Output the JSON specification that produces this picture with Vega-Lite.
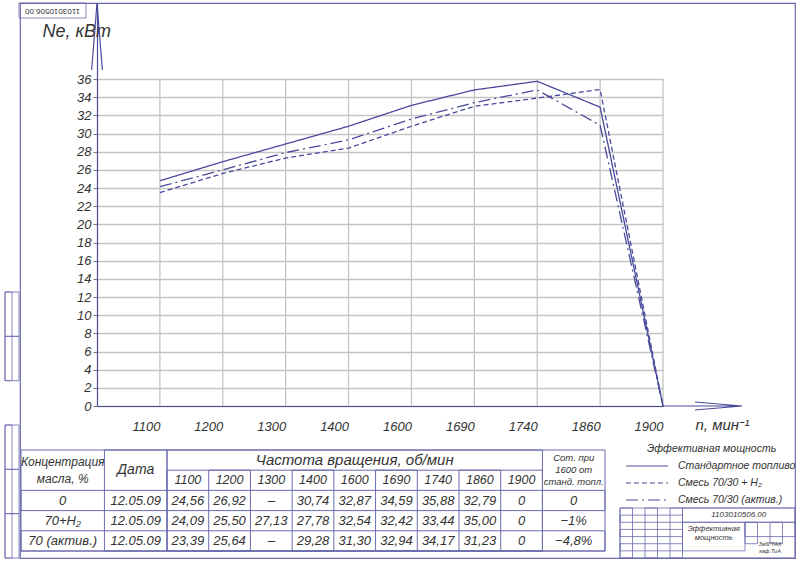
{
  "$schema": "https://vega.github.io/schema/vega-lite/v6.json",
  "description": "Эффективная мощность Ne в зависимости от частоты вращения n, с таблицей замеров",
  "autosize": {"type": "none"},
  "padding": {"left": 20, "top": 3, "right": 5, "bottom": 7},
  "width": 775,
  "height": 555,
  "background": "white",
  "config": {
    "font": "Liberation Sans, Roboto, sans-serif",
    "view": {"stroke": "#6a6aa8", "strokeWidth": 1.2},
    "text": {"fontStyle": "italic", "color": "#333333"},
    "axis": {"labelFontStyle": "italic", "labelColor": "#333333", "titleFontStyle": "italic", "titleFontWeight": "normal", "titleColor": "#333333"}
  },
  "datasets": {
    "curves": [
      {"rpm": "1100", "series": "Стандартное топливо", "ne": 24.8},
      {"rpm": "1200", "series": "Стандартное топливо", "ne": 26.9},
      {"rpm": "1300", "series": "Стандартное топливо", "ne": 28.85},
      {"rpm": "1400", "series": "Стандартное топливо", "ne": 30.8},
      {"rpm": "1600", "series": "Стандартное топливо", "ne": 33.1},
      {"rpm": "1690", "series": "Стандартное топливо", "ne": 34.8},
      {"rpm": "1740", "series": "Стандартное топливо", "ne": 35.75},
      {"rpm": "1860", "series": "Стандартное топливо", "ne": 32.9},
      {"rpm": "1900", "series": "Стандартное топливо", "ne": 0},
      {"rpm": "1100", "series": "Смесь 70/30 + H₂", "ne": 23.5},
      {"rpm": "1200", "series": "Смесь 70/30 + H₂", "ne": 25.6},
      {"rpm": "1300", "series": "Смесь 70/30 + H₂", "ne": 27.3},
      {"rpm": "1400", "series": "Смесь 70/30 + H₂", "ne": 28.4},
      {"rpm": "1600", "series": "Смесь 70/30 + H₂", "ne": 30.8},
      {"rpm": "1690", "series": "Смесь 70/30 + H₂", "ne": 33.0},
      {"rpm": "1740", "series": "Смесь 70/30 + H₂", "ne": 33.9},
      {"rpm": "1860", "series": "Смесь 70/30 + H₂", "ne": 34.85},
      {"rpm": "1900", "series": "Смесь 70/30 + H₂", "ne": 0},
      {"rpm": "1100", "series": "Смесь 70/30 (актив.)", "ne": 24.15},
      {"rpm": "1200", "series": "Смесь 70/30 (актив.)", "ne": 26.0},
      {"rpm": "1300", "series": "Смесь 70/30 (актив.)", "ne": 27.9},
      {"rpm": "1400", "series": "Смесь 70/30 (актив.)", "ne": 29.3},
      {"rpm": "1600", "series": "Смесь 70/30 (актив.)", "ne": 31.6},
      {"rpm": "1690", "series": "Смесь 70/30 (актив.)", "ne": 33.4},
      {"rpm": "1740", "series": "Смесь 70/30 (актив.)", "ne": 34.8},
      {"rpm": "1860", "series": "Смесь 70/30 (актив.)", "ne": 30.9},
      {"rpm": "1900", "series": "Смесь 70/30 (актив.)", "ne": 0}
    ],
    "cells": [
      {"row": "r0", "col": "conc", "text": "0"},
      {"row": "r0", "col": "date", "text": "12.05.09"},
      {"row": "r0", "col": "1100", "text": "24,56"},
      {"row": "r0", "col": "1200", "text": "26,92"},
      {"row": "r0", "col": "1300", "text": "–"},
      {"row": "r0", "col": "1400", "text": "30,74"},
      {"row": "r0", "col": "1600", "text": "32,87"},
      {"row": "r0", "col": "1690", "text": "34,59"},
      {"row": "r0", "col": "1740", "text": "35,88"},
      {"row": "r0", "col": "1860", "text": "32,79"},
      {"row": "r0", "col": "1900", "text": "0"},
      {"row": "r0", "col": "corr", "text": "0"},
      {"row": "r1", "col": "conc", "text": "70+H₂"},
      {"row": "r1", "col": "date", "text": "12.05.09"},
      {"row": "r1", "col": "1100", "text": "24,09"},
      {"row": "r1", "col": "1200", "text": "25,50"},
      {"row": "r1", "col": "1300", "text": "27,13"},
      {"row": "r1", "col": "1400", "text": "27,78"},
      {"row": "r1", "col": "1600", "text": "32,54"},
      {"row": "r1", "col": "1690", "text": "32,42"},
      {"row": "r1", "col": "1740", "text": "33,44"},
      {"row": "r1", "col": "1860", "text": "35,00"},
      {"row": "r1", "col": "1900", "text": "0"},
      {"row": "r1", "col": "corr", "text": "−1%"},
      {"row": "r2", "col": "conc", "text": "70 (актив.)"},
      {"row": "r2", "col": "date", "text": "12.05.09"},
      {"row": "r2", "col": "1100", "text": "23,39"},
      {"row": "r2", "col": "1200", "text": "25,64"},
      {"row": "r2", "col": "1300", "text": "–"},
      {"row": "r2", "col": "1400", "text": "29,28"},
      {"row": "r2", "col": "1600", "text": "31,30"},
      {"row": "r2", "col": "1690", "text": "32,94"},
      {"row": "r2", "col": "1740", "text": "34,17"},
      {"row": "r2", "col": "1860", "text": "31,23"},
      {"row": "r2", "col": "1900", "text": "0"},
      {"row": "r2", "col": "corr", "text": "−4,8%"}
    ],
    "borders": [
      {"c1": "conc1", "c2": "corr+", "r1": "h1", "r2": "r2"},
      {"c1": "conc1", "c2": "corr+", "r1": "r0", "r2": "r0"},
      {"c1": "conc1", "c2": "corr+", "r1": "r2", "r2": "r2"},
      {"c1": "1100", "c2": "1900+", "r1": "h1", "r2": "r2"},
      {"c1": "1100", "c2": "1900+", "r1": "h2", "r2": "r2"},
      {"c1": "date-", "c2": "date+", "r1": "h1", "r2": "r2"},
      {"c1": "1200", "c2": "1200+", "r1": "h2", "r2": "r2"},
      {"c1": "1400", "c2": "1400+", "r1": "h2", "r2": "r2"},
      {"c1": "1690", "c2": "1690+", "r1": "h2", "r2": "r2"},
      {"c1": "1860", "c2": "1860+", "r1": "h2", "r2": "r2"}
    ],
    "stamp": [
      {"c1": "a1", "c2": "q4", "r1": "y1", "r2": "y7"},
      {"c1": "a1", "c2": "a1", "r1": "y1", "r2": "y7"},
      {"c1": "a3", "c2": "a3", "r1": "y1", "r2": "y7"},
      {"c1": "a5", "c2": "a5", "r1": "y1", "r2": "y7"},
      {"c1": "a1", "c2": "a5", "r1": "y2", "r2": "y2"},
      {"c1": "a1", "c2": "a5", "r1": "y4", "r2": "y4"},
      {"c1": "a1", "c2": "a5", "r1": "y6", "r2": "y6"},
      {"c1": "m1", "c2": "q4", "r1": "y1", "r2": "y2"},
      {"c1": "m1", "c2": "m5", "r1": "y3", "r2": "y6"},
      {"c1": "q1", "c2": "q4", "r1": "y3", "r2": "y4"},
      {"c1": "q1", "c2": "q1", "r1": "y3", "r2": "y5"},
      {"c1": "q3", "c2": "q3", "r1": "y3", "r2": "y5"}
    ],
    "strip": [
      {"c1": "s1", "c2": "s2", "r1": "u1", "r2": "u1"},
      {"c1": "s1", "c2": "s2", "r1": "u2", "r2": "u2"},
      {"c1": "s1", "c2": "s1", "r1": "u1", "r2": "u2"},
      {"c1": "s1", "c2": "s2", "r1": "u4", "r2": "u4"},
      {"c1": "s1", "c2": "s2", "r1": "u5", "r2": "u5"},
      {"c1": "s1", "c2": "s2", "r1": "u6", "r2": "u6"},
      {"c1": "s1", "c2": "s1", "r1": "u4", "r2": "u6"}
    ]
  },
  "layer": [
    {
      "data": {"name": "curves"},
      "layer": [
        {
          "transform": [{"filter": "datum.series == 'Стандартное топливо'"}],
          "mark": {"type": "rule", "color": "#c4c4c4", "strokeWidth": 1.3},
          "encoding": {
            "x": {"field": "rpm", "type": "ordinal"},
            "y": {"datum": 0, "type": "quantitative"},
            "y2": {"datum": 36}
          }
        },
        {
          "mark": {"type": "line", "color": "#4a4a9c", "strokeWidth": 1.3},
          "encoding": {
            "x": {
              "field": "rpm",
              "type": "ordinal",
              "scale": {"type": "point", "domain": ["0", "1100", "1200", "1300", "1400", "1600", "1690", "1740", "1860", "1900"], "range": [77, 643], "padding": 0},
              "axis": {
                "orient": "bottom", "offset": -152,
                "values": ["1100", "1200", "1300", "1400", "1600", "1690", "1740", "1860", "1900"],
                "grid": false, "ticks": false,
                "domainColor": "#4a4a9c", "domainWidth": 1.2,
                "labelAngle": 0, "labelFontSize": 13, "labelPadding": 20,
                "title": "n, мин⁻¹", "titleX": 675, "titleY": 18,
                "titleAlign": "left", "titleBaseline": "middle", "titleFontSize": 15
              }
            },
            "y": {
              "field": "ne",
              "type": "quantitative",
              "scale": {"domain": [0, 44.37], "range": [403, 0], "nice": false, "zero": false},
              "axis": {
                "orient": "left", "offset": -77,
                "values": [0, 2, 4, 6, 8, 10, 12, 14, 16, 18, 20, 22, 24, 26, 28, 30, 32, 34, 36],
                "tickCount": 40, "labelOverlap": false,
                "grid": true, "gridColor": "#c4c4c4", "gridWidth": 1.3,
                "domainColor": "#4a4a9c", "domainWidth": 1.2,
                "tickColor": "#777777", "tickSize": 4,
                "labelFontSize": 13, "labelPadding": 2,
                "title": "Ne, кВт", "titleAngle": 0, "titleX": -55, "titleY": 28,
                "titleAlign": "left", "titleBaseline": "middle", "titleFontSize": 18
              }
            },
            "strokeDash": {
              "field": "series",
              "type": "nominal",
              "scale": {
                "domain": ["Стандартное топливо", "Смесь 70/30 + H₂", "Смесь 70/30 (актив.)"],
                "range": [[1, 0], [5, 3], [12, 4, 2, 4]]
              },
              "legend": null
            }
          }
        },
        {
          "data": {"values": [{}]},
          "mark": {"type": "point", "shape": "M 0 0 L 1.975 0 M 0.8 -0.1 L 1.975 0 L 0.8 0.1", "size": 6400, "filled": false, "color": "#4a4a9c", "strokeWidth": 1.2, "opacity": 1},
          "encoding": {
            "x": {"datum": "1900", "type": "ordinal"},
            "y": {"datum": 0, "type": "quantitative"}
          }
        },
        {
          "data": {"values": [{}]},
          "mark": {"type": "point", "shape": "M -0.16 2 L 0 0 L 0.16 2", "size": 4489, "filled": false, "color": "#4a4a9c", "strokeWidth": 1.2, "opacity": 1},
          "encoding": {
            "x": {"datum": "0", "type": "ordinal"},
            "y": {"datum": 44.37, "type": "quantitative"}
          }
        }
      ]
    },
    {
      "layer": [
        {
          "data": {"name": "borders"},
          "mark": {"type": "rect", "fill": "transparent", "stroke": "#6b6bb0", "strokeWidth": 1},
          "encoding": {
            "x": {
              "field": "c1", "type": "ordinal", "bandPosition": 0,
              "scale": {"type": "band", "domain": ["conc1", "conc", "conc3", "conc4", "date-", "date", "date+", "1100", "1100+", "1200", "1200+", "1300", "1300+", "1400", "1400+", "1600", "1600+", "1690", "1690+", "1740", "1740+", "1860", "1860+", "1900", "1900+", "corr-", "corr", "corr+"], "range": [1, 585], "paddingInner": 0, "paddingOuter": 0},
              "axis": null
            },
            "x2": {"field": "c2", "bandPosition": 1},
            "y": {
              "field": "r1", "type": "ordinal", "bandPosition": 0,
              "scale": {"type": "band", "domain": ["h1", "h2", "r0", "r1", "r2"], "range": [447, 548], "paddingInner": 0, "paddingOuter": 0},
              "axis": null
            },
            "y2": {"field": "r2", "bandPosition": 1}
          }
        },
        {
          "data": {"name": "cells"},
          "transform": [{"filter": {"not": {"field": "col", "oneOf": ["date", "corr"]}}}],
          "mark": {"type": "text", "fontSize": 13},
          "encoding": {
            "x": {"field": "col", "type": "ordinal", "bandPosition": 1, "axis": null},
            "y": {"field": "row", "type": "ordinal", "axis": null},
            "text": {"field": "text"}
          }
        },
        {
          "data": {"name": "cells"},
          "transform": [{"filter": {"field": "col", "oneOf": ["date", "corr"]}}],
          "mark": {"type": "text", "fontSize": 13},
          "encoding": {
            "x": {"field": "col", "type": "ordinal", "axis": null},
            "y": {"field": "row", "type": "ordinal", "axis": null},
            "text": {"field": "text"}
          }
        },
        {
          "data": {"name": "curves"},
          "transform": [{"filter": "datum.series == 'Стандартное топливо'"}],
          "mark": {"type": "text", "fontSize": 12.5},
          "encoding": {
            "x": {"field": "rpm", "type": "ordinal", "bandPosition": 1, "axis": null},
            "y": {"datum": "h2", "type": "ordinal", "axis": null},
            "text": {"field": "rpm"}
          }
        },
        {
          "data": {"values": [{}]},
          "mark": {"type": "text", "fontSize": 15},
          "encoding": {
            "x": {"datum": "1600", "type": "ordinal", "bandPosition": 1, "axis": null},
            "y": {"datum": "h1", "type": "ordinal", "axis": null},
            "text": {"value": "Частота вращения, об/мин"}
          }
        },
        {
          "data": {"values": [{}]},
          "mark": {"type": "text", "fontSize": 14},
          "encoding": {
            "x": {"datum": "date", "type": "ordinal", "axis": null},
            "y": {"datum": "h1", "type": "ordinal", "bandPosition": 1, "axis": null},
            "text": {"value": "Дата"}
          }
        },
        {
          "data": {"values": [{}]},
          "mark": {"type": "text", "fontSize": 12, "lineBreak": "\n", "lineHeight": 17, "dy": -8.5},
          "encoding": {
            "x": {"datum": "conc", "type": "ordinal", "bandPosition": 1, "axis": null},
            "y": {"datum": "h1", "type": "ordinal", "bandPosition": 1, "axis": null},
            "text": {"value": "Концентрация\nмасла, %"}
          }
        },
        {
          "data": {"values": [{}]},
          "mark": {"type": "text", "fontSize": 9.5, "lineBreak": "\n", "lineHeight": 12, "dy": -12},
          "encoding": {
            "x": {"datum": "corr", "type": "ordinal", "axis": null},
            "y": {"datum": "h1", "type": "ordinal", "bandPosition": 1, "axis": null},
            "text": {"value": "Сот. при\n1600 от\nстанд. топл."}
          }
        }
      ]
    },
    {
      "data": {"name": "curves"},
      "transform": [{"filter": "datum.rpm == '1100'"}],
      "layer": [
        {
          "mark": {"type": "rule", "color": "#4a4a9c", "strokeWidth": 1.2},
          "encoding": {
            "x": {
              "datum": "sym", "type": "ordinal", "bandPosition": 0,
              "scale": {"type": "band", "domain": ["sym", "lab"], "range": [606, 700], "paddingInner": 0.19, "paddingOuter": 0},
              "axis": null
            },
            "x2": {"datum": "sym", "bandPosition": 1},
            "y": {
              "field": "series", "type": "nominal",
              "scale": {"type": "band", "domain": ["title", "Стандартное топливо", "Смесь 70/30 + H₂", "Смесь 70/30 (актив.)"], "range": [437.5, 505.5], "paddingInner": 0, "paddingOuter": 0},
              "axis": null
            },
            "strokeDash": {"field": "series", "type": "nominal", "legend": null}
          }
        },
        {
          "mark": {"type": "text", "align": "left", "fontSize": 10.5},
          "encoding": {
            "x": {"datum": "lab", "type": "ordinal", "bandPosition": 0, "axis": null},
            "y": {"field": "series", "type": "nominal", "axis": null},
            "text": {"field": "series"}
          }
        },
        {
          "data": {"values": [{}]},
          "mark": {"type": "text", "align": "left", "fontSize": 10.5},
          "encoding": {
            "x": {"datum": "sym", "type": "ordinal", "bandPosition": 0.5, "axis": null},
            "y": {"datum": "title", "type": "nominal", "axis": null},
            "text": {"value": "Эффективная мощность"}
          }
        }
      ]
    },
    {
      "layer": [
        {
          "data": {"name": "stamp"},
          "mark": {"type": "rect", "fill": "transparent", "stroke": "#6b6bb0", "strokeWidth": 0.8},
          "encoding": {
            "x": {
              "field": "c1", "type": "ordinal", "bandPosition": 0,
              "scale": {"type": "band", "domain": ["a1", "a2", "a3", "a4", "a5", "m1", "m2", "m3", "m4", "m5", "q1", "q2", "q3", "q4"], "range": [600, 775], "paddingInner": 0, "paddingOuter": 0},
              "axis": null
            },
            "x2": {"field": "c2", "bandPosition": 1},
            "y": {
              "field": "r1", "type": "ordinal", "bandPosition": 0,
              "scale": {"type": "band", "domain": ["y1", "y2", "y3", "y4", "y5", "y6", "y7"], "range": [505, 555], "paddingInner": 0, "paddingOuter": 0},
              "axis": null
            },
            "y2": {"field": "r2", "bandPosition": 1}
          }
        },
        {
          "data": {"values": [{}]},
          "mark": {"type": "text", "fontSize": 8},
          "encoding": {
            "x": {"datum": "m5", "type": "ordinal", "axis": null},
            "y": {"datum": "y1", "type": "ordinal", "bandPosition": 1, "axis": null},
            "text": {"value": "1103010506.00"}
          }
        },
        {
          "data": {"values": [{}]},
          "mark": {"type": "text", "fontSize": 7.5, "lineBreak": "\n", "lineHeight": 9, "dy": -4.5},
          "encoding": {
            "x": {"datum": "m3", "type": "ordinal", "axis": null},
            "y": {"datum": "y4", "type": "ordinal", "axis": null},
            "text": {"value": "Эффективная\nмощность"}
          }
        },
        {
          "data": {"values": [{}]},
          "mark": {"type": "text", "fontSize": 5.5, "lineBreak": "\n", "lineHeight": 6.5, "dy": -3},
          "encoding": {
            "x": {"datum": "q3", "type": "ordinal", "bandPosition": 0, "axis": null},
            "y": {"datum": "y6", "type": "ordinal", "bandPosition": 0.5, "axis": null},
            "text": {"value": "ЗабГТАХ\nкаф.ТиА"}
          }
        }
      ]
    },
    {
      "data": {"values": [{}]},
      "layer": [
        {
          "mark": {"type": "rect", "fill": "transparent", "stroke": "#6b6bb0", "strokeWidth": 0.8},
          "encoding": {
            "x": {
              "datum": "box", "type": "ordinal",
              "scale": {"type": "band", "domain": ["box"], "range": [-1, 66], "paddingInner": 0, "paddingOuter": 0},
              "axis": null
            },
            "y": {
              "datum": "box", "type": "ordinal",
              "scale": {"type": "band", "domain": ["box"], "range": [0, 15], "paddingInner": 0, "paddingOuter": 0},
              "axis": null
            }
          }
        },
        {
          "mark": {"type": "text", "fontSize": 8, "angle": 180, "fontStyle": "normal"},
          "encoding": {
            "x": {"datum": "box", "type": "ordinal", "axis": null},
            "y": {"datum": "box", "type": "ordinal", "axis": null},
            "text": {"value": "1103010506.00"}
          }
        }
      ]
    },
    {
      "data": {"name": "strip"},
      "mark": {"type": "rect", "fill": "transparent", "stroke": "#6b6bb0", "strokeWidth": 0.8},
      "encoding": {
        "x": {
          "field": "c1", "type": "ordinal", "bandPosition": 0,
          "scale": {"type": "band", "domain": ["s1", "s2"], "range": [-15, -1], "paddingInner": 0, "paddingOuter": 0},
          "axis": null
        },
        "x2": {"field": "c2", "bandPosition": 1},
        "y": {
          "field": "r1", "type": "ordinal", "bandPosition": 0,
          "scale": {"type": "band", "domain": ["u1", "u2", "u3", "u4", "u5", "u6"], "range": [289, 555], "paddingInner": 0, "paddingOuter": 0},
          "axis": null
        },
        "y2": {"field": "r2", "bandPosition": 1}
      }
    }
  ],
  "resolve": {
    "scale": {"x": "independent", "y": "independent"},
    "axis": {"x": "independent", "y": "independent"}
  }
}
